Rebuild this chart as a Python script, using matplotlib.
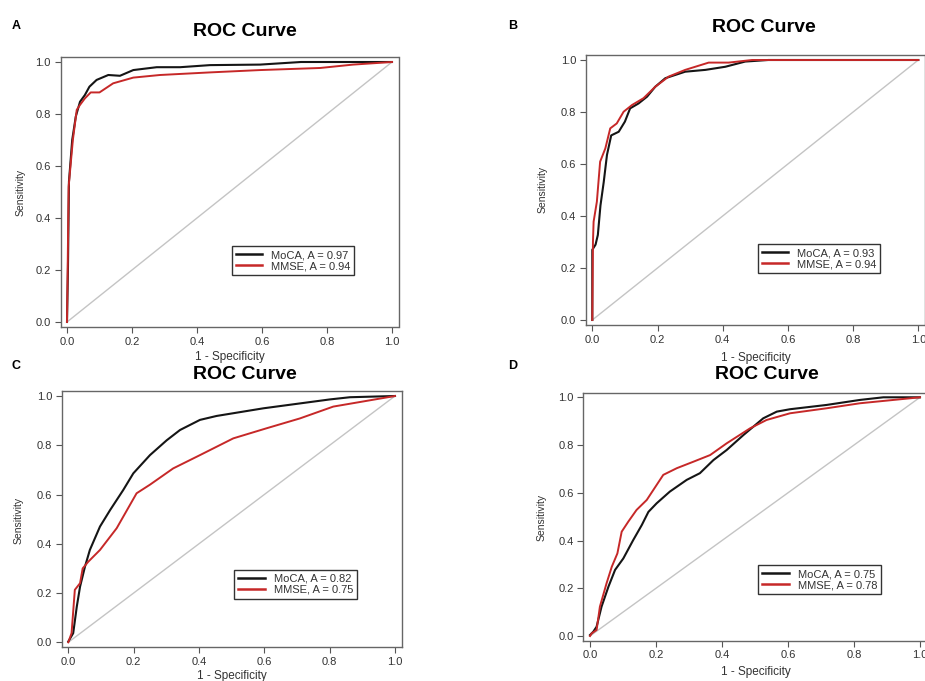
import matplotlib
matplotlib.use("Agg")
import matplotlib.pyplot as plt

plt.rcParams['font.family'] = ['Liberation Sans', 'DejaVu Sans']

# panel A
a_moca_fpr = [0, 0.003, 0.006, 0.016, 0.027, 0.04, 0.055, 0.069, 0.091, 0.127, 0.163, 0.204, 0.276, 0.348, 0.44, 0.594, 0.72, 1.0]
a_moca_tpr = [0, 0.21, 0.54, 0.70, 0.79, 0.847, 0.873, 0.905, 0.931, 0.95, 0.947, 0.969, 0.98, 0.98, 0.988, 0.99, 1.0, 1.0]
a_mmse_fpr = [0, 0.002, 0.005, 0.018, 0.03, 0.04, 0.055, 0.073, 0.10, 0.142, 0.204, 0.286, 0.44, 0.594, 0.779, 0.88, 1.0]
a_mmse_tpr = [0, 0.20, 0.52, 0.70, 0.816, 0.835, 0.86, 0.883, 0.883, 0.918, 0.94, 0.95, 0.96, 0.969, 0.977, 0.99, 1.0]

# panel B
b_moca_fpr = [0, 0.0, 0.003, 0.01, 0.017, 0.025, 0.035, 0.045, 0.058, 0.081, 0.10, 0.116, 0.142, 0.168, 0.193, 0.224, 0.285, 0.347, 0.408, 0.469, 0.54, 1.0]
b_moca_tpr = [0, 0.27, 0.276, 0.29, 0.327, 0.44, 0.53, 0.635, 0.71, 0.724, 0.763, 0.814, 0.833, 0.859, 0.897, 0.93, 0.955, 0.962, 0.974, 0.994, 1.0, 1.0]
b_mmse_fpr = [0, 0.002, 0.004, 0.014, 0.024, 0.04, 0.055, 0.075, 0.096, 0.122, 0.157, 0.193, 0.234, 0.285, 0.357, 0.418, 0.49, 1.0]
b_mmse_tpr = [0, 0.30, 0.378, 0.455, 0.609, 0.66, 0.737, 0.756, 0.801, 0.827, 0.853, 0.897, 0.936, 0.962, 0.99, 0.99, 1.0, 1.0]

# panel C
c_moca_fpr = [0, 0.015, 0.026, 0.036, 0.051, 0.066, 0.097, 0.128, 0.168, 0.199, 0.25, 0.301, 0.342, 0.403, 0.454, 0.597, 0.8, 0.862, 1.0]
c_moca_tpr = [0.003, 0.037, 0.145, 0.226, 0.307, 0.375, 0.47, 0.537, 0.618, 0.686, 0.76, 0.82, 0.862, 0.903, 0.919, 0.95, 0.986, 0.995, 1.0]
c_mmse_fpr = [0, 0.01, 0.02, 0.036, 0.044, 0.061, 0.097, 0.148, 0.209, 0.25, 0.321, 0.403, 0.505, 0.607, 0.709, 0.811, 1.0]
c_mmse_tpr = [0, 0.037, 0.213, 0.24, 0.30, 0.327, 0.375, 0.463, 0.605, 0.64, 0.706, 0.76, 0.828, 0.869, 0.909, 0.957, 1.0]

# panel D
d_moca_fpr = [0, 0.01, 0.02, 0.035, 0.056, 0.076, 0.101, 0.131, 0.157, 0.177, 0.202, 0.242, 0.293, 0.333, 0.374, 0.414, 0.465, 0.525, 0.566, 0.606, 0.717, 0.818, 0.889, 1.0]
d_moca_tpr = [0.004, 0.018, 0.039, 0.123, 0.207, 0.277, 0.325, 0.402, 0.465, 0.52, 0.556, 0.605, 0.654, 0.682, 0.737, 0.779, 0.842, 0.912, 0.94, 0.95, 0.968, 0.989, 1.0, 1.0]
d_mmse_fpr = [0, 0.005, 0.02, 0.03, 0.05, 0.066, 0.083, 0.096, 0.116, 0.141, 0.172, 0.222, 0.263, 0.313, 0.364, 0.414, 0.485, 0.535, 0.606, 0.717, 0.818, 1.0]
d_mmse_tpr = [0, 0.011, 0.025, 0.123, 0.22, 0.29, 0.346, 0.437, 0.479, 0.528, 0.57, 0.675, 0.703, 0.73, 0.758, 0.807, 0.87, 0.905, 0.933, 0.954, 0.975, 1.0]

panel_letters = ["A", "B", "C", "D"]
moca_auc = [0.97, 0.93, 0.82, 0.75]
mmse_auc = [0.94, 0.94, 0.75, 0.78]
ticks = [0.0, 0.2, 0.4, 0.6, 0.8, 1.0]

W, H = 925, 681
fig = plt.figure(figsize=(W / 100, H / 100), dpi=100)

# pixel where x=0, x=1, y=1, y=0 land in each panel
maps = [(67, 392, 62, 322), (592.3, 918.3, 60, 320),
        (68.3, 395, 396, 642.3), (590, 920, 397.3, 636)]
# title, letter, xlabel, ylabel pixel positions
title_pos = [(245, 32), (764, 28), (245, 374), (767, 375)]
letter_pos = [(16, 26), (513, 26), (16, 366), (513, 366)]
xlab_pos = [(230, 357), (756, 358), (232, 675.5), (756, 672)]
ylab_pos = [(21, 192), (543, 189), (19, 520), (542, 517)]

curves = [(a_moca_fpr, a_moca_tpr, a_mmse_fpr, a_mmse_tpr),
          (b_moca_fpr, b_moca_tpr, b_mmse_fpr, b_mmse_tpr),
          (c_moca_fpr, c_moca_tpr, c_mmse_fpr, c_mmse_tpr),
          (d_moca_fpr, d_moca_tpr, d_mmse_fpr, d_mmse_tpr)]

lo, hi = -0.02, 1.02
for i in range(4):
    x0, x1, y1, y0 = maps[i]
    sx = x1 - x0
    sy = y0 - y1
    left = x0 + lo * sx
    right = x0 + hi * sx
    top = y0 - hi * sy
    bottom = y0 - lo * sy
    ax = fig.add_axes([left / W, 1 - bottom / H, (right - left) / W, (bottom - top) / H])

    mf, mt, sf, st = curves[i]
    ax.plot([0, 1], [0, 1], color='#c4c4c4', lw=1.0)
    ax.plot(mf, mt, color='#151515', lw=1.5, label="MoCA, A = %.2f" % moca_auc[i])
    ax.plot(sf, st, color='#c62828', lw=1.4, label="MMSE, A = %.2f" % mmse_auc[i])

    ax.set_xlim(lo, hi)
    ax.set_ylim(lo, hi)
    ax.set_xticks(ticks)
    ax.set_yticks(ticks)
    ax.set_xticklabels(["%.1f" % t for t in ticks])
    ax.set_yticklabels(["%.1f" % t for t in ticks])
    ax.tick_params(direction='out', length=4, width=0.8, color='#555555',
                   labelcolor='#333333', labelsize=8, pad=3)
    for s in ax.spines.values():
        s.set_color('#666666')
        s.set_linewidth(1.0)

    leg = ax.legend(loc='center', bbox_to_anchor=(0.688, 0.246), fontsize=8,
                    frameon=True, fancybox=False, framealpha=1, edgecolor='#333333',
                    handlelength=2.4, borderpad=0.35, labelspacing=0.1,
                    handletextpad=0.8, borderaxespad=0)
    leg.get_frame().set_linewidth(1.0)
    for line in leg.get_lines():
        line.set_linewidth(1.8)
    for t in leg.get_texts():
        t.set_color('#333333')

    tx, ty = title_pos[i]
    fig.text(tx / W, 1 - ty / H, "ROC Curve", ha='center', va='center',
             fontsize=14, fontweight='bold')
    lx, ly = letter_pos[i]
    fig.text(lx / W, 1 - ly / H, panel_letters[i], ha='center', va='center',
             fontsize=9, fontweight='bold')
    xx, xy = xlab_pos[i]
    fig.text(xx / W, 1 - xy / H, "1 - Specificity", ha='center', va='center',
             fontsize=8.5, color='#333333')
    yx, yy = ylab_pos[i]
    fig.text(yx / W, 1 - yy / H, "Sensitivity", ha='center', va='center',
             fontsize=7.5, color='#333333', rotation=90)

fig.savefig("out.png", dpi=100)
